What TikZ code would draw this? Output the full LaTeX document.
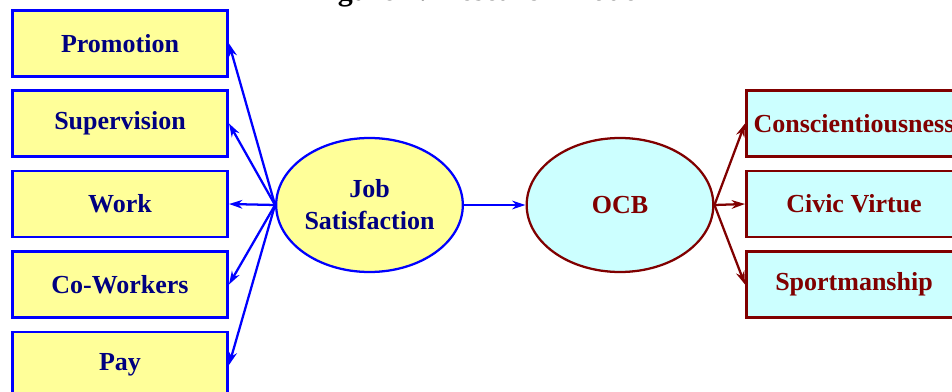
\documentclass[tikz,border=0pt]{standalone}
\usepackage{fontspec}
\setmainfont{Liberation Serif}
\usetikzlibrary{arrows.meta,shapes.geometric}

\definecolor{boxyellow}{RGB}{255,255,153}
\definecolor{boxcyan}{RGB}{204,255,255}
\definecolor{navytext}{RGB}{0,0,128}
\definecolor{darkred}{RGB}{128,0,0}

\tikzset{
  facet/.style={rectangle,draw=blue,fill=boxyellow,line width=2pt,
    minimum width=161.5pt,minimum height=49.5pt,inner sep=0pt,
    text=navytext,font=\fontsize{19.5}{22}\selectfont\bfseries},
  ocbfacet/.style={facet,draw=darkred,fill=boxcyan,text=darkred},
  construct/.style={ellipse,draw=blue,fill=boxyellow,line width=1.7pt,
    minimum width=140pt,minimum height=100.5pt,inner sep=0pt,align=center,
    text=navytext,font=\fontsize{19.5}{24}\selectfont\bfseries},
  ocbconstruct/.style={construct,draw=darkred,fill=boxcyan,text=darkred},
  jslink/.style={draw=blue,line width=1.7pt,-{Stealth[length=10pt,width=6.5pt]}},
  ocblink/.style={draw=darkred,line width=1.7pt,-{Stealth[length=10pt,width=6.5pt]}}
}

\begin{document}
\begin{tikzpicture}[x=0.75pt,y=-0.75pt]
\clip (0,0) rectangle (952,392);
\node[anchor=base,font=\fontsize{22.5}{26}\selectfont\bfseries] (title) at (478,0.5) {Figure 1: Research Model};

   \node[facet] (promo) at (120,43.5)  {Promotion};
   \node[facet] (super) at (120,123.5) {Supervision};
   \node[facet] (work)  at (120,204)   {Work};
   \node[facet] (cowork) at (120,284.5) {Co-Workers};
   \node[facet] (pay)   at (120,365)   {Pay};

   \node[construct] (js) at (369.5,205) {Job\\Satisfaction};
   \node[ocbconstruct] (ocb) at (620,205) {OCB};

   \node[ocbfacet] (consc) at (854,123.5) {Conscientiousness};
   \node[ocbfacet] (civic) at (854,204)   {Civic Virtue};
   \node[ocbfacet] (sport) at (854,284.5) {Sportmanship};

   \path (js.west) edge[jslink] (promo.east);
   \path (js.west) edge[jslink] (super.east);
   \path (js.west) edge[jslink] (work.east);
   \path (js.west) edge[jslink] (cowork.east);
   \path (js.west) edge[jslink] (pay.east);
   \path (js.east) edge[jslink] (ocb.west);
   \path (ocb.east) edge[ocblink] (consc.west);
   \path (ocb.east) edge[ocblink] (civic.west);
   \path (ocb.east) edge[ocblink] (sport.west);
   
\end{tikzpicture}
\end{document}
